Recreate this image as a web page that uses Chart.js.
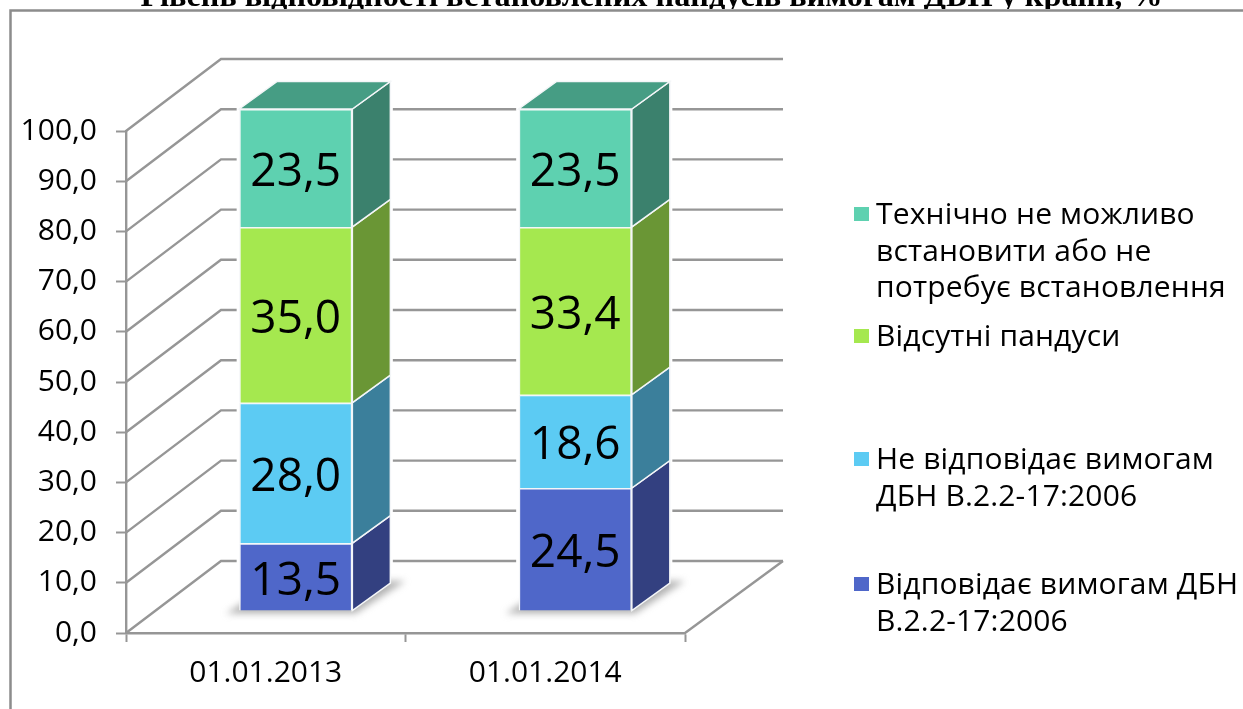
<!DOCTYPE html>
<html lang="uk">
<head>
<meta charset="utf-8">
<style>
html,body{margin:0;padding:0;background:#fff;width:1243px;height:709px;overflow:hidden}
#wrap{position:relative;width:1243px;height:709px}
#title{position:absolute;left:0;width:1303px;top:-20px;text-align:center;font:bold 32.3px/30px "Liberation Serif",serif;color:#000;white-space:nowrap;height:29px;overflow:hidden}
.lg{position:absolute;left:876px;font:30px/36.5px "Open Sans",sans-serif;letter-spacing:.15px;color:#000;white-space:nowrap}
.sq{position:absolute;left:854px;width:15px;height:14px}
canvas{position:absolute;left:0;top:0}
</style>
</head>
<body>
<div id="wrap">
<canvas id="c" width="1243" height="709"></canvas>
<div id="title">Рівень відповідності встановлених пандусів вимогам ДБН у країні, %</div>
</div>
<script src="https://cdn.jsdelivr.net/npm/chart.js@4"></script>
<script>
const categories = ["01.01.2013", "01.01.2014"];
const compliant = [13.5, 24.5];
const nonCompliant = [28.0, 18.6];
const missing = [35.0, 33.4];
const notNeeded = [23.5, 23.5];
const compliantName = ["Відповідає вимогам ДБН", "В.2.2-17:2006"];
const nonCompliantName = ["Не відповідає вимогам", "ДБН В.2.2-17:2006"];
const missingName = ["Відсутні пандуси"];
const notNeededName = ["Технічно не можливо", "встановити або не", "потребує встановлення"];
const titleText = "Рівень відповідності встановлених пандусів вимогам ДБН у країні, %";

const GREY = "#969696";
const FONT = '"Open Sans", sans-serif';
const shift = {x: 30, y: -22};      // front plane of the bars vs. axis plane
const depth = {x: 38, y: -27.5};    // bar depth
const wall = {x: 95, y: -72, right: 783};
const fmt = v => v.toFixed(1).replace(".", ",");

const series = [
  {name: compliantName, data: compliant, front: "#4F67C9", side: "#334080", top: "#3D4E9A", legendTop: 565},
  {name: nonCompliantName, data: nonCompliant, front: "#5CCBF3", side: "#3B7F9B", top: "#459ABA", legendTop: 440},
  {name: missingName, data: missing, front: "#A5E84F", side: "#6A9635", top: "#80B23D", legendTop: 317},
  {name: notNeededName, data: notNeeded, front: "#5ED1B0", side: "#3B816D", top: "#469D84", legendTop: 195}
];

const scene3d = {
  id: "scene3d",
  beforeDraw(chart) {
    const c = chart.ctx;
    c.save();
    c.strokeStyle = "#8c8c8c"; c.lineWidth = 2.5;
    c.beginPath(); c.moveTo(10.5, 709); c.lineTo(10.5, 10.5); c.lineTo(1243, 10.5); c.stroke();
    c.restore();
  },
  beforeDatasetsDraw(chart) {
    const c = chart.ctx, y = chart.scales.y, a = chart.chartArea;
    c.save();
    c.strokeStyle = GREY; c.lineWidth = 2.4;
    y.ticks.forEach(t => {
      const py = y.getPixelForValue(t.value);
      c.beginPath();
      c.moveTo(a.left, py);
      c.lineTo(a.left + wall.x, py + wall.y);
      c.lineTo(wall.right, py + wall.y);
      c.stroke();
    });
    const zero = y.getPixelForValue(0);
    c.beginPath(); c.moveTo(a.right, zero); c.lineTo(wall.right, zero + wall.y); c.stroke();
    c.restore();

    c.save();
    c.translate(shift.x, shift.y);
    const first = chart.getDatasetMeta(0).data, last = chart.getDatasetMeta(series.length - 1).data;
    // white halo so that the wall lines stop short of the bars
    last.forEach((el, i) => {
      const l = el.x - el.width / 2, r = el.x + el.width / 2, b = first[i].base;
      c.fillStyle = "#fff"; c.strokeStyle = "#fff"; c.lineWidth = 5;
      c.beginPath();
      c.moveTo(l, el.y); c.lineTo(l + depth.x, el.y + depth.y); c.lineTo(r + depth.x, el.y + depth.y);
      c.lineTo(r + depth.x, b + depth.y); c.lineTo(r, b); c.lineTo(l, b); c.closePath();
      c.fill(); c.stroke();
    });
    // soft floor shadow
    first.forEach(el => {
      const l = el.x - el.width / 2, r = el.x + el.width / 2, b = el.base;
      c.save();
      c.filter = "blur(3.5px)";
      c.fillStyle = "rgba(130,130,130,0.62)";
      c.beginPath();
      c.moveTo(l - 13, b + 3); c.lineTo(r + 3, b + 3);
      c.lineTo(r + depth.x + 15, b + depth.y - 2); c.lineTo(l + depth.x, b + depth.y - 2);
      c.closePath(); c.fill();
      c.restore();
    });
    // side and top faces
    series.forEach((s, si) => {
      chart.getDatasetMeta(si).data.forEach(el => {
        const r = el.x + el.width / 2, l = el.x - el.width / 2;
        c.fillStyle = s.side; c.strokeStyle = "#f4f6f8"; c.lineWidth = 1.5;
        c.beginPath();
        c.moveTo(r, el.y); c.lineTo(r + depth.x, el.y + depth.y);
        c.lineTo(r + depth.x, el.base + depth.y); c.lineTo(r, el.base); c.closePath();
        c.fill(); c.stroke();
        if (si === series.length - 1) {
          c.fillStyle = s.top;
          c.beginPath();
          c.moveTo(l, el.y); c.lineTo(l + depth.x, el.y + depth.y);
          c.lineTo(r + depth.x, el.y + depth.y); c.lineTo(r, el.y); c.closePath();
          c.fill(); c.stroke();
        }
      });
    });
    // the library's own front faces are drawn on this translated canvas
  },
  afterDatasetsDraw(chart) {
    const c = chart.ctx;
    c.fillStyle = "#000";
    c.font = "46px " + FONT;
    c.textAlign = "center"; c.textBaseline = "middle";
    series.forEach((s, si) => {
      chart.getDatasetMeta(si).data.forEach((el, i) => {
        c.fillText(fmt(s.data[i]), el.x, (el.y + el.base) / 2 + 5);
      });
    });
    c.restore();
  }
};

document.getElementById("title").textContent = titleText;
const wrap = document.getElementById("wrap");
series.forEach(s => {
  const d = document.createElement("div");
  d.className = "lg"; d.style.top = s.legendTop + "px";
  d.innerHTML = s.name.join("<br>");
  wrap.appendChild(d);
  const q = document.createElement("div");
  q.className = "sq"; q.style.top = (s.legendTop + 12) + "px"; q.style.background = s.front;
  wrap.appendChild(q);
});

new Chart(document.getElementById("c"), {
  type: "bar",
  plugins: [scene3d],
  data: {
    labels: categories,
    datasets: series.map(s => ({
      label: s.name.join(" "), data: s.data, backgroundColor: s.front,
      borderColor: "#f4f6f8", borderWidth: 1.5,
      barPercentage: 0.405, categoryPercentage: 1
    }))
  },
  options: {
    responsive: false, animation: false,
    layout: {padding: {left: 0, right: 558, top: 131, bottom: 0}},
    plugins: {legend: {display: false}, title: {display: false}, tooltip: {enabled: false}},
    scales: {
      x: {
        stacked: true,
        afterFit: s => { s.height = 76; },
        grid: {drawOnChartArea: false, drawTicks: true, tickLength: 9, tickColor: GREY, tickWidth: 2, offset: true},
        border: {color: GREY, width: 2.4},
        ticks: {color: "#000", font: {family: FONT, size: 30}, padding: 13, maxRotation: 0}
      },
      y: {
        stacked: true, min: 0, max: 100,
        afterFit: s => { s.width = 126; },
        grid: {drawOnChartArea: false, drawTicks: true, tickLength: 10, tickColor: GREY, tickWidth: 2},
        border: {color: GREY, width: 2.4},
        ticks: {stepSize: 10, color: "#000", font: {family: FONT, size: 30}, padding: 19, callback: v => fmt(v)}
      }
    }
  }
});
</script>
</body>
</html>
